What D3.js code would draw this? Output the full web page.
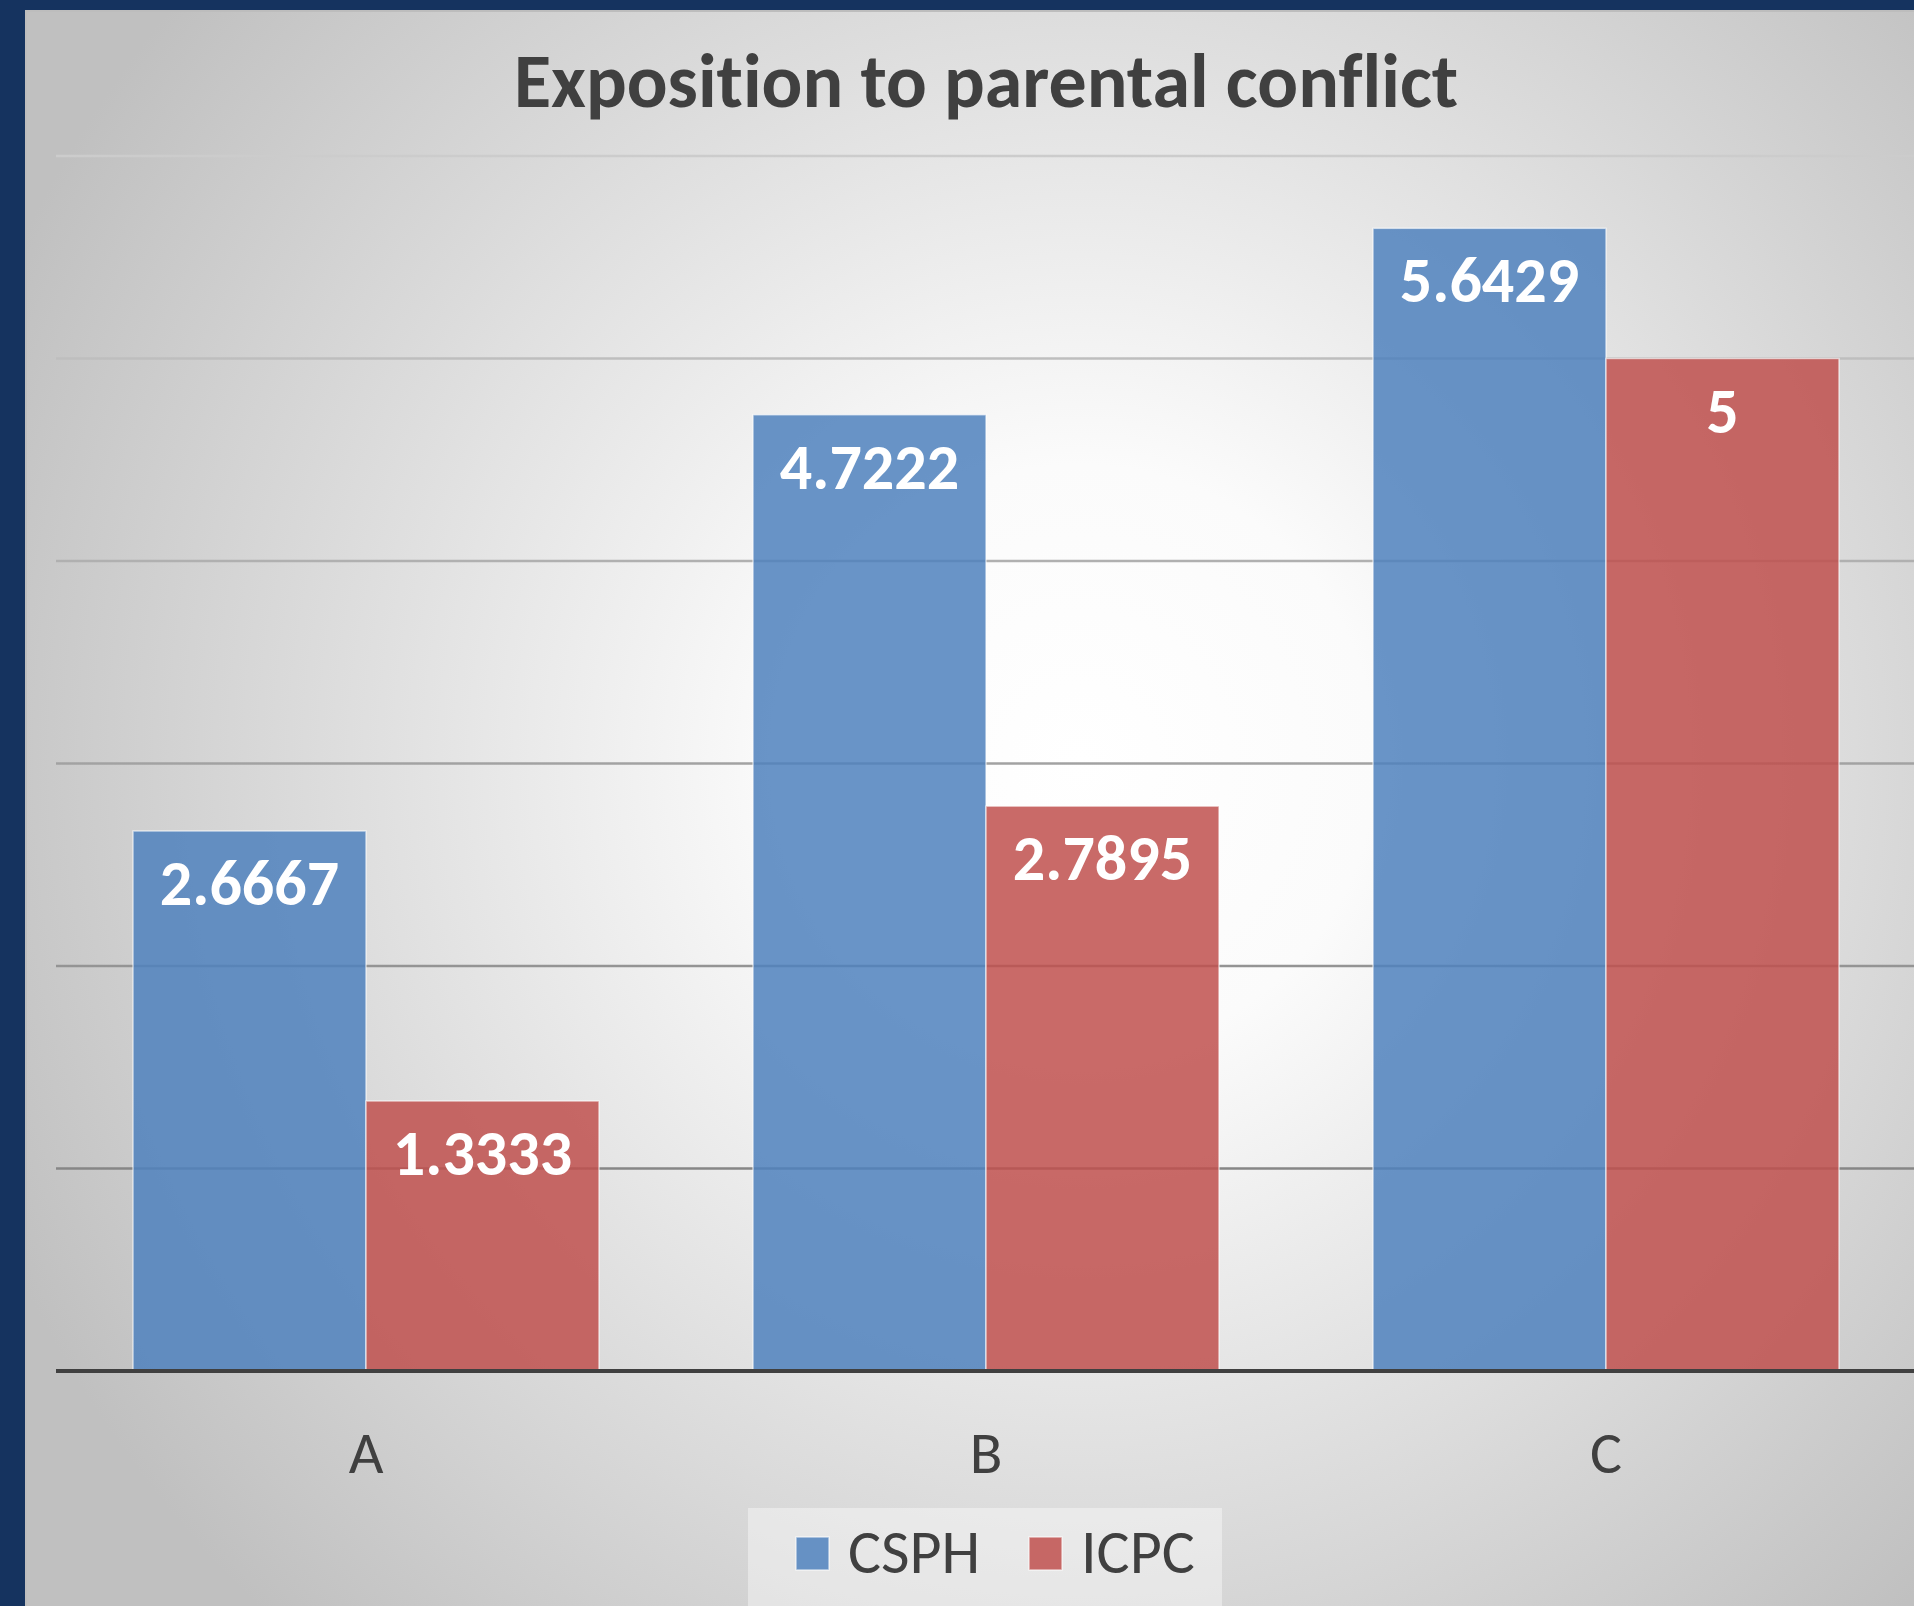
<!DOCTYPE html>
<html>
<head>
<meta charset="utf-8">
<script src="https://cdn.jsdelivr.net/npm/d3@7"></script>
<style>
  body { margin: 0; background: #15335f; }
  svg { display: block; }
</style>
</head>
<body>
<figure id="chart" style="margin:0"></figure>
<script>
const categories = ["A", "B", "C"];
const seriesNames = ["CSPH", "ICPC"];
const csph = [2.6667, 4.7222, 5.6429];
const icpc = [1.3333, 2.7895, 5];
const yTicks = [1, 2, 3, 4, 5, 6];
const colors = { CSPH: "#4f81bd", ICPC: "#c0504d" };

const width = 1914, height = 1606;
const fontFamily = "Carlito, Lato, 'Open Sans', sans-serif";

// font shorthand resets ligatures, so set the parts one by one
function setFont(sel, size, weight) {
  return sel.style("font-family", fontFamily)
    .style("font-size", size + "px")
    .style("font-weight", weight || "normal")
    .style("font-variant-ligatures", "none")
    .style("font-feature-settings", "'liga' 0, 'dlig' 0");
}

const svg = d3.select("#chart").append("svg")
  .attr("width", width)
  .attr("height", height);

const defs = svg.append("defs");
const bg = defs.append("radialGradient")
  .attr("id", "bg")
  .attr("gradientUnits", "userSpaceOnUse")
  .attr("cx", 1080).attr("cy", 760).attr("r", 1180);
bg.append("stop").attr("offset", 0).attr("stop-color", "#ffffff");
bg.append("stop").attr("offset", 0.25).attr("stop-color", "#fbfbfb");
bg.append("stop").attr("offset", 1).attr("stop-color", "#c0c0c0");

const gridGrad = defs.append("linearGradient")
  .attr("id", "gridGrad")
  .attr("gradientUnits", "userSpaceOnUse")
  .attr("x1", 0).attr("x2", 0).attr("y1", 156).attr("y2", 1168);
gridGrad.append("stop").attr("offset", 0).attr("stop-color", "#cccccc");
gridGrad.append("stop").attr("offset", 1).attr("stop-color", "#868686");

// navy frame + chart area
svg.append("rect").attr("width", width).attr("height", height).attr("fill", "#15335f");
svg.append("rect").attr("x", 25).attr("y", 10).attr("width", width - 25).attr("height", height - 10)
  .attr("fill", "url(#bg)");
svg.append("line").attr("x1", 25).attr("x2", width).attr("y1", 11).attr("y2", 11)
  .attr("stroke", "#bdbdbd").attr("stroke-width", 2);
svg.append("line").attr("x1", 26).attr("x2", 26).attr("y1", 10).attr("y2", height)
  .attr("stroke", "#bdbdbd").attr("stroke-width", 2);

const plotLeft = 56, plotRight = 1916, baseY = 1371, topY = 156;

const x0 = d3.scaleBand()
  .domain(categories)
  .range([plotLeft, plotRight])
  .paddingInner(0.2484)
  .paddingOuter(0.1242);

const x1 = d3.scaleBand()
  .domain(seriesNames)
  .range([0, x0.bandwidth()]);

const y = d3.scaleLinear()
  .domain([0, 6])
  .range([baseY, topY]);

// gridlines
svg.append("g")
  .selectAll("line")
  .data(yTicks)
  .join("line")
  .attr("x1", plotLeft)
  .attr("x2", width)
  .attr("y1", d => y(d))
  .attr("y2", d => y(d))
  .attr("stroke", "url(#gridGrad)")
  .attr("stroke-width", 2.5);

// title
setFont(svg.append("text"), 76, "bold")
  .attr("x", 986)
  .attr("y", 107)
  .attr("text-anchor", "middle")
  .attr("fill", "#404040")
  .text("Exposition to parental conflict");

// bars
const data = categories.map((c, i) => ({ cat: c, values: [
  { key: "CSPH", value: csph[i] },
  { key: "ICPC", value: icpc[i] }
]}));

const groups = svg.append("g")
  .selectAll("g")
  .data(data)
  .join("g")
  .attr("transform", d => "translate(" + x0(d.cat) + ",0)");

groups.selectAll("rect")
  .data(d => d.values)
  .join("rect")
  .attr("x", d => x1(d.key))
  .attr("y", d => y(d.value))
  .attr("width", x1.bandwidth())
  .attr("height", d => baseY - y(d.value))
  .attr("fill", d => colors[d.key])
  .attr("fill-opacity", 0.85)
  .attr("stroke", "#ffffff")
  .attr("stroke-opacity", 0.6)
  .attr("stroke-width", 1.5);

setFont(groups.selectAll("text")
  .data(d => d.values)
  .join("text"), 64, "bold")
  .attr("x", d => x1(d.key) + x1.bandwidth() / 2)
  .attr("y", d => y(d.value) + 74)
  .attr("text-anchor", "middle")
  .attr("fill", "#ffffff")
  .text(d => d.value);

// x axis
const xAxis = svg.append("g")
  .attr("transform", "translate(0," + baseY + ")")
  .call(d3.axisBottom(x0).tickSize(0).tickPadding(0));
xAxis.select(".domain").remove();
xAxis.append("line")
  .attr("x1", plotLeft).attr("x2", width)
  .attr("stroke", "#404040").attr("stroke-width", 4);
setFont(xAxis.selectAll(".tick text"), 60)
  .attr("y", 102)
  .attr("dy", null)
  .attr("fill", "#404040");

// legend
const legend = svg.append("g");
legend.append("rect")
  .attr("x", 748).attr("y", 1508).attr("width", 474).attr("height", 98)
  .attr("fill", "#ffffff").attr("fill-opacity", 0.4);

const legendX = [796, 1029];
const legendItems = legend.selectAll("g")
  .data(seriesNames)
  .join("g")
  .attr("transform", (d, i) => "translate(" + legendX[i] + ",1537)");
legendItems.append("rect")
  .attr("width", 33).attr("height", 33)
  .attr("fill", d => colors[d])
  .attr("fill-opacity", 0.85)
  .attr("stroke", "#ffffff").attr("stroke-opacity", 0.6).attr("stroke-width", 1.5);
setFont(legendItems.append("text"), 62)
  .attr("x", 52)
  .attr("y", 36)
  .attr("fill", "#404040")
  .text(d => d);
</script>
</body>
</html>
